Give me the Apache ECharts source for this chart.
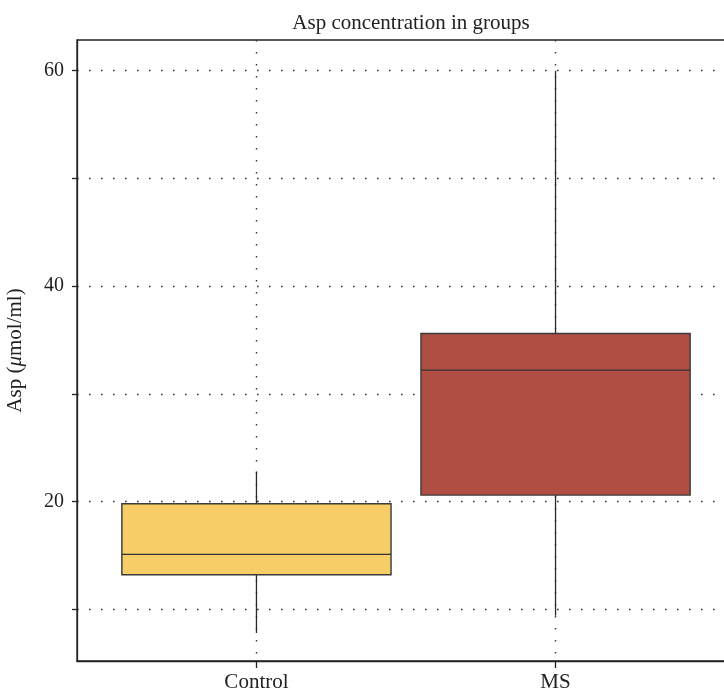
<!DOCTYPE html>
<html>
<head>
<meta charset="utf-8">
<script src="https://cdn.jsdelivr.net/npm/echarts@6/dist/echarts.min.js"></script>
<style>
  html, body { margin: 0; padding: 0; background: #fff; }
  #charts { width: 724px; height: 692px; }
</style>
</head>
<body>
<div id="charts"></div>
<script>
  // groups on the x axis (placed at 1, 2, ...)
  const groups = ['Control', 'MS'];
  const lowWhisker = [7.8, 9.4];
  const q1 = [13.2, 20.6];
  const median = [15.1, 32.2];
  const q3 = [19.8, 35.6];
  const highWhisker = [22.8, 60.0];
  const yTicks = [10, 20, 30, 40, 50, 60];
  const yLabels = [20, 40, 60];
  const fills = ['#F6CD66', '#B04E43'];

  const boxData = groups.map(function (g, i) {
    return [i + 1, lowWhisker[i], q1[i], median[i], q3[i], highWhisker[i]];
  });

  const font = 'Liberation Serif';
  const dotted = { color: '#333', width: 1.4, type: [1.6, 10.4] };

  function renderBox(params, api) {
    const x = api.value(0);
    const pMin = api.coord([x, api.value(1)]);
    const pQ1 = api.coord([x, api.value(2)]);
    const pMed = api.coord([x, api.value(3)]);
    const pQ3 = api.coord([x, api.value(4)]);
    const pMax = api.coord([x, api.value(5)]);
    const half = api.size([0.9, 0])[0] / 2;
    const lineStyle = { stroke: '#2a2a2a', lineWidth: 1.3 };
    return {
      type: 'group',
      children: [
        { type: 'line', shape: { x1: pMin[0], y1: pMin[1], x2: pQ1[0], y2: pQ1[1] }, style: lineStyle },
        { type: 'line', shape: { x1: pQ3[0], y1: pQ3[1], x2: pMax[0], y2: pMax[1] }, style: lineStyle },
        {
          type: 'rect',
          shape: { x: pQ3[0] - half, y: pQ3[1], width: half * 2, height: pQ1[1] - pQ3[1] },
          style: { fill: fills[params.dataIndex], stroke: '#3a3a3a', lineWidth: 1.4 }
        },
        { type: 'line', shape: { x1: pMed[0] - half, y1: pMed[1], x2: pMed[0] + half, y2: pMed[1] }, style: { stroke: '#333', lineWidth: 1.4 } }
      ]
    };
  }

  const option = {
    animation: false,
    backgroundColor: '#fff',
    title: {
      text: 'Asp concentration in groups',
      left: 406,
      textAlign: 'center',
      top: 8,
      textStyle: { fontFamily: font, fontSize: 21, fontWeight: 'normal', color: '#222' }
    },
    grid: {
      left: 77,
      top: 40,
      bottom: 31,
      width: 658,
      show: true,
      borderColor: '#222',
      borderWidth: 1.3,
      outerBoundsMode: 'none',
      containLabel: false
    },
    xAxis: {
      type: 'value',
      min: 0.4,
      max: 2.6,
      axisLine: { show: true, lineStyle: { color: '#222', width: 1.3 } },
      axisTick: { show: true, length: 7, customValues: [1, 2], lineStyle: { color: '#222', width: 1.3 } },
      axisLabel: {
        customValues: [1, 2],
        margin: 11,
        fontFamily: font,
        fontSize: 21,
        color: '#222',
        formatter: function (v) { return groups[Math.round(v) - 1] || ''; }
      },
      splitLine: { show: true, lineStyle: dotted }
    },
    yAxis: {
      type: 'value',
      min: 5.2,
      max: 62.85,
      name: '{n|Asp (}{i|μ}{n|mol/ml)}',
      nameLocation: 'middle',
      nameGap: 51,
      nameTextStyle: {
        rich: {
          n: { fontFamily: font, fontSize: 21, color: '#222' },
          i: { fontFamily: font, fontSize: 21, fontStyle: 'italic', color: '#222' }
        }
      },
      axisLine: { show: true, lineStyle: { color: '#222', width: 1.3 } },
      axisTick: { show: true, length: 5, customValues: yTicks, lineStyle: { color: '#222', width: 1.3 } },
      axisLabel: {
        customValues: yLabels,
        margin: 13,
        fontFamily: font,
        fontSize: 20,
        color: '#222'
      },
      splitLine: { show: true, lineStyle: dotted }
    },
    series: [
      {
        type: 'custom',
        renderItem: renderBox,
        encode: { x: 0, y: [1, 2, 3, 4, 5] },
        data: boxData,
        z: 3
      }
    ]
  };

  const myChart = echarts.init(document.getElementById('charts'));
  myChart.setOption(option);
</script>
</body>
</html>
